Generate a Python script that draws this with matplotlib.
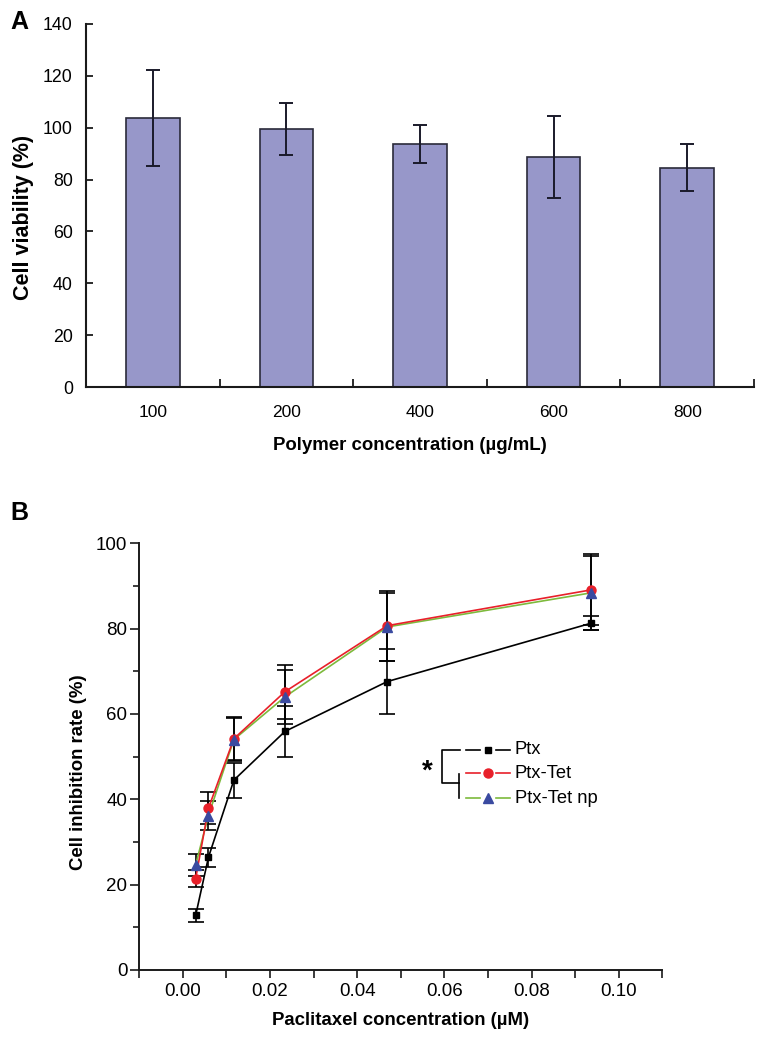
import matplotlib
matplotlib.use("Agg")
import matplotlib.pyplot as plt
from matplotlib.lines import Line2D
import numpy as np

plt.rcParams['font.family'] = ['Liberation Sans', 'DejaVu Sans']

# ---------------- data ----------------
polymer_conc = ["100", "200", "400", "600", "800"]
viability = [103.9, 99.5, 93.8, 88.8, 84.6]
viability_err = [18.5, 10.2, 7.3, 15.8, 9.2]

ptx_conc = [0.00293, 0.00586, 0.0117, 0.0234, 0.0469, 0.09375]
ptx = [12.8, 26.4, 44.5, 55.9, 67.6, 81.3]
ptx_err = [1.5, 2.3, 4.1, 5.9, 7.6, 1.6]
ptx_tet = [21.4, 37.9, 54.2, 65.2, 80.7, 89.1]
ptx_tet_err = [2.0, 3.7, 5.0, 6.3, 8.2, 8.3]
ptx_tet_np = [24.6, 36.2, 54.0, 64.0, 80.4, 88.4]
ptx_tet_np_err = [2.5, 3.3, 5.0, 6.3, 8.0, 8.7]

W, H = 766, 1042
fig = plt.figure(figsize=(W / 100, H / 100), dpi=100)

def rect(l, t, r, b):
    return [l / W, 1 - b / H, (r - l) / W, (b - t) / H]

axis_col = "#1a1a1a"

# ---------------- Panel A ----------------
axA = fig.add_axes(rect(86, 24, 754, 387))
xpos = np.arange(len(polymer_conc))
axA.bar(xpos, viability, width=0.4, color="#9797c9", edgecolor="#2a2a3a",
        linewidth=1.2, zorder=2)
axA.errorbar(xpos, viability, yerr=viability_err, fmt="none", ecolor="#1a1a2a",
             elinewidth=1.4, capsize=4.8, capthick=1.4, zorder=3)
axA.set_xlim(-0.5, len(polymer_conc) - 0.5)
axA.set_ylim(0, 140)
axA.set_yticks(np.arange(0, 141, 20))
axA.set_xticks(xpos)
axA.set_xticklabels(polymer_conc)
axA.set_xticks(np.arange(0.5, len(polymer_conc), 1.0), minor=True)
axA.tick_params(axis="x", which="major", length=0, pad=13, labelsize=12.5)
axA.tick_params(axis="x", which="minor", direction="in", length=6, width=1.3,
                color=axis_col)
axA.tick_params(axis="y", which="major", direction="in", length=5, width=1.3,
                labelsize=12.8, pad=9.5, color=axis_col)
for s in ["top", "right"]:
    axA.spines[s].set_visible(False)
for s in ["left", "bottom"]:
    axA.spines[s].set_linewidth(1.5)
    axA.spines[s].set_color(axis_col)
axA.set_ylabel("Cell viability (%)", fontsize=15.5, fontweight="bold",
               va="center")
axA.yaxis.set_label_coords(-0.094, 0.466)
axA.set_xlabel("Polymer concentration (\u00b5g/mL)", fontsize=13.4,
               fontweight="bold")
axA.xaxis.set_label_coords(0.485, -0.137)
fig.text(10 / W, 1 - 22 / H, "A", fontsize=18, fontweight="bold",
         va="center", ha="left")

# ---------------- Panel B ----------------
axB = fig.add_axes(rect(139.3, 543.3, 662.3, 970))
red = "#e8202a"
blue = "#3a4aa0"
green = "#7dba3c"

# error bars
for vals, errs in [(ptx, ptx_err), (ptx_tet, ptx_tet_err), (ptx_tet_np, ptx_tet_np_err)]:
    axB.errorbar(ptx_conc, vals, yerr=errs, fmt="none", ecolor="black",
                 elinewidth=1.2, capsize=5.5, capthick=1.2, zorder=2)

# lines
axB.plot(ptx_conc, ptx, color="black", lw=1.2, zorder=3)
axB.plot(ptx_conc, ptx_tet_np, color=green, lw=1.2, zorder=3.1)
axB.plot(ptx_conc, ptx_tet, color=red, lw=1.2, zorder=3.2)
# markers
axB.plot(ptx_conc, ptx, ls="none", marker="s", ms=5, color="black", zorder=4)
axB.plot(ptx_conc, ptx_tet, ls="none", marker="o", ms=6.5, color=red,
         markeredgecolor=red, zorder=4.1)
axB.plot(ptx_conc, ptx_tet_np, ls="none", marker="^", ms=7, color=blue,
         markeredgecolor=blue, zorder=4.2)

axB.set_xlim(-0.01, 0.11)
axB.set_ylim(0, 100)
axB.set_xticks(np.arange(0, 0.101, 0.02))
axB.set_xticklabels(["0.00", "0.02", "0.04", "0.06", "0.08", "0.10"])
axB.set_xticks(np.arange(-0.01, 0.111, 0.02), minor=True)
axB.set_yticks(np.arange(0, 101, 20))
axB.set_yticks(np.arange(10, 100, 20), minor=True)
axB.tick_params(axis="x", which="both", direction="out", length=6, width=1.2,
                color=axis_col)
axB.tick_params(axis="x", which="major", labelsize=13.5, pad=3)
axB.tick_params(axis="y", which="major", direction="out", length=6.5, width=1.2,
                labelsize=13.5, pad=2, color=axis_col)
axB.tick_params(axis="y", which="minor", direction="out", length=4.5, width=1.2,
                color=axis_col)
for s in ["top", "right"]:
    axB.spines[s].set_visible(False)
for s in ["left", "bottom"]:
    axB.spines[s].set_linewidth(1.4)
    axB.spines[s].set_color(axis_col)
axB.set_ylabel("Cell inhibition rate (%)", fontsize=13.4, fontweight="bold",
               va="center")
axB.yaxis.set_label_coords(-0.116, 0.463)
axB.set_xlabel("Paclitaxel concentration (\u00b5M)", fontsize=13.4,
               fontweight="bold")
axB.xaxis.set_label_coords(0.5, -0.099)
fig.text(10 / W, 1 - 513 / H, "B", fontsize=18, fontweight="bold",
         va="center", ha="left")

# custom legend with significance bracket
def fx(px):
    return px / W

def fy(py):
    return 1 - py / H

legend_rows = [("Ptx", "black", "s", "black", 5, 750),
               ("Ptx-Tet", red, "o", red, 6.5, 773.3),
               ("Ptx-Tet np", green, "^", blue, 7, 798.3)]
for label, lc, mk, mc, ms, py in legend_rows:
    fig.add_artist(Line2D([fx(466), fx(480)], [fy(py), fy(py)], color=lc, lw=1.2,
                          transform=fig.transFigure))
    fig.add_artist(Line2D([fx(496), fx(510)], [fy(py), fy(py)], color=lc, lw=1.2,
                          transform=fig.transFigure))
    fig.add_artist(Line2D([fx(488)], [fy(py)], ls="none", marker=mk, ms=ms,
                          color=mc, markeredgecolor=mc, transform=fig.transFigure))
    fig.text(fx(515), fy(py), label, fontsize=13.2, va="center", ha="left")

br = dict(color="black", lw=1.2, transform=fig.transFigure)
fig.add_artist(Line2D([fx(460), fx(442.3), fx(442.3), fx(459.3)],
                      [fy(750), fy(750), fy(783.3), fy(783.3)], **br))
fig.add_artist(Line2D([fx(459.3), fx(459.3)], [fy(774), fy(797.7)], **br))
fig.text(fx(427), fy(772), "*", fontsize=20, fontweight="bold",
         va="center", ha="center")

fig.savefig("out.png", dpi=100)
